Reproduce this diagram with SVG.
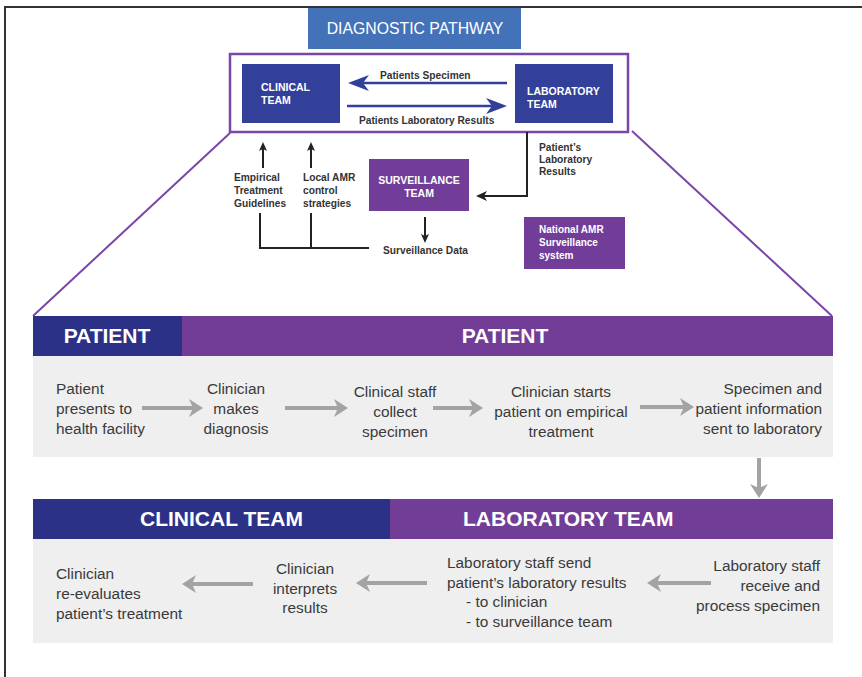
<svg xmlns="http://www.w3.org/2000/svg" width="862" height="677" viewBox="0 0 862 677">
<style>
.tb{font-family:"Liberation Sans",Arial,sans-serif;font-weight:bold;fill:#fff}
.lb{font-family:"Liberation Sans",Arial,sans-serif;font-weight:bold;font-size:10.2px;fill:#333}
.bt{font-family:"Liberation Sans",Arial,sans-serif;font-size:15.4px;fill:#3a3a3a}
.hd{font-family:"Liberation Sans",Arial,sans-serif;font-weight:bold;font-size:21px;fill:#fff}
.ga{stroke:#a3a3a3;stroke-width:4;fill:none}
.gh{fill:#a3a3a3}
.bl{stroke:#222;stroke-width:2;fill:none}
.blh{fill:#222}
</style>
<rect x="0" y="0" width="862" height="677" fill="#fff"/>
<path d="M5,677 V7 H862" fill="none" stroke="#333" stroke-width="2"/>

<g id="diagnostic-pathway">
<rect x="308" y="8" width="213" height="41" fill="#4472b8"/>
<text x="415" y="34" text-anchor="middle" font-family="'Liberation Sans',Arial,sans-serif" font-size="15.8" fill="#fff">DIAGNOSTIC PATHWAY</text>
</g>

<g id="frame">
<rect x="230" y="54" width="398" height="78" fill="none" stroke="#7a45a8" stroke-width="2.5"/>
<line x1="230" y1="133" x2="33" y2="316" stroke="#7a45a8" stroke-width="2"/>
<line x1="632" y1="131" x2="832" y2="316" stroke="#7a45a8" stroke-width="2"/>
</g>

<g id="clinical-team">
<rect x="242" y="64" width="98" height="59" fill="#33409a"/>
<text class="tb" font-size="10.5"><tspan x="261" y="91">CLINICAL</tspan><tspan x="261" y="104">TEAM</tspan></text>
</g>

<g id="laboratory-team">
<rect x="515" y="64" width="98" height="59" fill="#33409a"/>
<text class="tb" font-size="10.5"><tspan x="527" y="95">LABORATORY</tspan><tspan x="527" y="108">TEAM</tspan></text>
</g>

<g id="surveillance-team">
<rect x="369" y="159" width="100" height="52" fill="#713d98"/>
<text class="tb" font-size="10.5" text-anchor="middle"><tspan x="419" y="184">SURVEILLANCE</tspan><tspan x="419" y="197">TEAM</tspan></text>
</g>

<g id="national-amr">
<rect x="524" y="217" width="101" height="52" fill="#713d98"/>
<text class="tb" font-size="10"><tspan x="539" y="233">National AMR</tspan><tspan x="539" y="246">Surveillance</tspan><tspan x="539" y="259">system</tspan></text>
</g>

<g id="top-labels">
<text class="lb" x="380" y="79">Patients Specimen</text>
<text class="lb" x="359" y="124">Patients Laboratory Results</text>
<text class="lb"><tspan x="539" y="151">Patient’s</tspan><tspan x="539" y="163">Laboratory</tspan><tspan x="539" y="175">Results</tspan></text>
<text class="lb"><tspan x="234" y="181">Empirical</tspan><tspan x="234" y="194">Treatment</tspan><tspan x="234" y="207">Guidelines</tspan></text>
<text class="lb"><tspan x="303" y="181">Local AMR</tspan><tspan x="303" y="194">control</tspan><tspan x="303" y="207">strategies</tspan></text>
<text class="lb" x="383" y="254">Surveillance Data</text>
</g>

<g id="patient-header">
<rect x="33" y="316" width="149" height="40" fill="#2b3187"/>
<rect x="182" y="316" width="651" height="40" fill="#713d97"/>
<text class="hd" x="107" y="343" text-anchor="middle">PATIENT</text>
<text class="hd" x="505" y="343" text-anchor="middle">PATIENT</text>
<rect x="33" y="356" width="800" height="101" fill="#efefef"/>
</g>

<g id="team-header">
<rect x="33" y="499" width="357" height="40" fill="#2b3187"/>
<rect x="390" y="499" width="443" height="40" fill="#713d97"/>
<text class="hd" x="140" y="526">CLINICAL TEAM</text>
<text class="hd" x="463" y="526">LABORATORY TEAM</text>
<rect x="33" y="539" width="800" height="104" fill="#efefef"/>
</g>

<g id="step-patient-presents">
<text class="bt"><tspan x="56" y="394">Patient</tspan><tspan x="56" y="414">presents to</tspan><tspan x="56" y="434">health facility</tspan></text>
</g>
<g id="step-diagnosis">
<text class="bt" text-anchor="middle"><tspan x="236" y="394">Clinician</tspan><tspan x="236" y="414">makes</tspan><tspan x="236" y="434">diagnosis</tspan></text>
</g>
<g id="step-collect">
<text class="bt" text-anchor="middle"><tspan x="395" y="397">Clinical staff</tspan><tspan x="395" y="417">collect</tspan><tspan x="395" y="437">specimen</tspan></text>
</g>
<g id="step-empirical">
<text class="bt" text-anchor="middle"><tspan x="561" y="397">Clinician starts</tspan><tspan x="561" y="417">patient on empirical</tspan><tspan x="561" y="437">treatment</tspan></text>
</g>
<g id="step-sent">
<text class="bt" text-anchor="end"><tspan x="822" y="394">Specimen and</tspan><tspan x="822" y="414">patient information</tspan><tspan x="822" y="434">sent to laboratory</tspan></text>
</g>
<g id="step-lab-receive">
<text class="bt" text-anchor="end"><tspan x="820" y="571">Laboratory staff</tspan><tspan x="820" y="591">receive and</tspan><tspan x="820" y="611">process specimen</tspan></text>
</g>
<g id="step-lab-send">
<text class="bt"><tspan x="447" y="568">Laboratory staff send</tspan><tspan x="447" y="588">patient’s laboratory results</tspan><tspan x="466" y="607">- to clinician</tspan><tspan x="466" y="627">- to surveillance team</tspan></text>
</g>
<g id="step-interprets">
<text class="bt" text-anchor="middle"><tspan x="305" y="574">Clinician</tspan><tspan x="305" y="594">interprets</tspan><tspan x="305" y="613">results</tspan></text>
</g>
<g id="step-reevaluates">
<text class="bt"><tspan x="56" y="579">Clinician</tspan><tspan x="56" y="599">re-evaluates</tspan><tspan x="56" y="619">patient’s treatment</tspan></text>
</g>

<g id="connectors">
<line x1="507" y1="83" x2="362" y2="83" stroke="#33409a" stroke-width="2.5"/>
<polygon points="348,83 369,75 363,83 369,91" fill="#33409a"/>
<line x1="347" y1="106" x2="493" y2="106" stroke="#33409a" stroke-width="2.5"/>
<polygon points="507,106 486,98 492,106 486,114" fill="#33409a"/>
<polyline class="bl" points="527,132 527,196 484,196"/>
<polygon class="blh" points="476,196 487,191 484,196 487,201"/>
<line class="bl" x1="425" y1="217" x2="425" y2="236"/>
<polygon class="blh" points="425,243 421,234 425,236 429,234"/>
<polyline class="bl" points="260,213 260,248 369,248"/>
<line class="bl" x1="311" y1="213" x2="311" y2="248"/>
<line class="bl" x1="263" y1="168" x2="263" y2="149"/>
<polygon class="blh" points="263,142 259,151 263,149 267,151"/>
<line class="bl" x1="311" y1="168" x2="311" y2="149"/>
<polygon class="blh" points="311,142 307,151 311,149 315,151"/>
<line class="ga" x1="142" y1="408" x2="194" y2="408"/>
<polygon class="gh" points="203,408 189,399 193,408 189,417"/>
<line class="ga" x1="285" y1="408" x2="339" y2="408"/>
<polygon class="gh" points="348,408 334,399 338,408 334,417"/>
<line class="ga" x1="433" y1="408" x2="474" y2="408"/>
<polygon class="gh" points="483,408 469,399 473,408 469,417"/>
<line class="ga" x1="640" y1="407" x2="685" y2="407"/>
<polygon class="gh" points="694,407 680,398 684,407 680,416"/>
<line class="ga" x1="759" y1="458" x2="759" y2="489"/>
<polygon class="gh" points="759,498 750,484 759,488 768,484"/>
<line class="ga" x1="711" y1="583" x2="656" y2="583"/>
<polygon class="gh" points="647,583 661,574 657,583 661,592"/>
<line class="ga" x1="427" y1="583" x2="365" y2="583"/>
<polygon class="gh" points="356,583 370,574 366,583 370,592"/>
<line class="ga" x1="253" y1="584" x2="191" y2="584"/>
<polygon class="gh" points="182,584 196,575 192,584 196,593"/>
</g>
</svg>
